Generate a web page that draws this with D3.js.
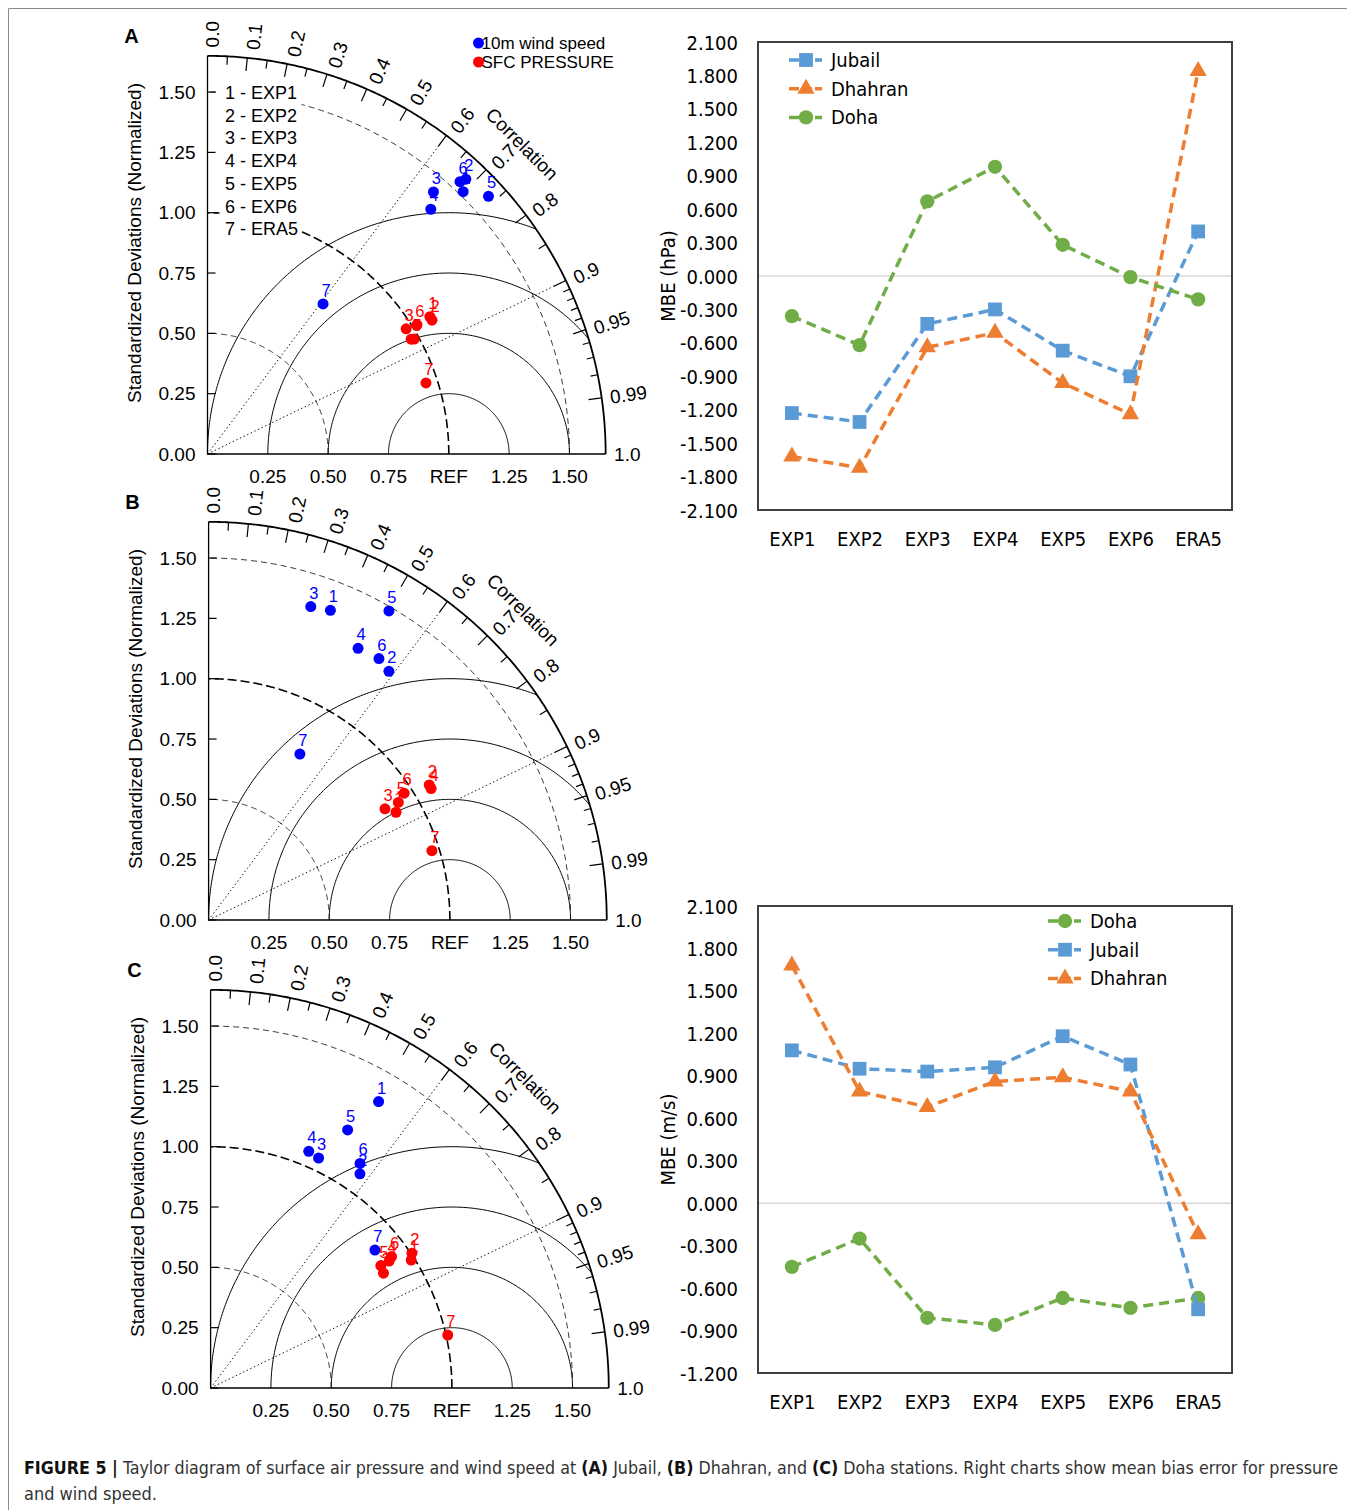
<!DOCTYPE html>
<html>
<head>
<meta charset="utf-8">
<script src="https://cdn.jsdelivr.net/npm/d3@7"></script>
<style>
  body { margin: 0; background: #fff; }
  svg text { font-family: "Liberation Sans", Arial, sans-serif; }
  .narrow text, text.narrow { font-family: "Liberation Sans Narrow", "DejaVu Sans Condensed", sans-serif; }
</style>
</head>
<body>
<div id="chart"></div>
<script>
// Taylor diagrams: normalized std dev and correlation for points 1..7 (EXP1..EXP6, ERA5)
const windSdA  = [1.518, 1.563, 1.434, 1.373, 1.580, 1.539, 0.785];
const windCorA = [0.698, 0.685, 0.653, 0.674, 0.737, 0.680, 0.610];
const presSdA  = [1.083, 1.083, 0.973, 0.969, 0.980, 1.020, 0.952];
const presCorA = [0.851, 0.859, 0.846, 0.871, 0.874, 0.851, 0.951];

const windSdB  = [1.379, 1.273, 1.366, 1.285, 1.483, 1.293, 0.785];
const windCorB = [0.366, 0.587, 0.310, 0.482, 0.504, 0.546, 0.482];
const presSdB  = [0.896, 1.072, 0.864, 1.071, 0.925, 0.966, 0.969];
const presCorB = [0.867, 0.853, 0.846, 0.861, 0.850, 0.839, 0.955];

const windSdC  = [1.376, 1.082, 1.053, 1.062, 1.211, 1.118, 0.889];
const windCorC = [0.506, 0.572, 0.425, 0.383, 0.469, 0.554, 0.766];
const presSdC  = [0.986, 1.004, 0.860, 0.908, 0.869, 0.927, 1.007];
const presCorC = [0.843, 0.831, 0.833, 0.815, 0.812, 0.809, 0.976];

const pointNames = ["1 - EXP1", "2 - EXP2", "3 - EXP3", "4 - EXP4", "5 - EXP5", "6 - EXP6", "7 - ERA5"];
const sdTicks = [0, 0.25, 0.5, 0.75, 1, 1.25, 1.5];
const sdTickLabels = ["0.00", "0.25", "0.50", "0.75", "1.00", "1.25", "1.50"];
const sdXLabels = ["", "0.25", "0.50", "0.75", "REF", "1.25", "1.50"];
const corTicks = [0, 0.1, 0.2, 0.3, 0.4, 0.5, 0.6, 0.7, 0.8, 0.9, 0.95, 0.99, 1.0];
const corTickLabels = ["0.0", "0.1", "0.2", "0.3", "0.4", "0.5", "0.6", "0.7", "0.8", "0.9", "0.95", "0.99", "1.0"];
const corMedTicks = [0.05, 0.15, 0.25, 0.35, 0.45, 0.55, 0.65, 0.75, 0.85];
const corSmallTicks = [0.91, 0.92, 0.93, 0.94, 0.96, 0.97, 0.98];
const rmsArcs = [0.25, 0.5, 0.75, 1.0];
const sdArcs = [0.5, 1.0, 1.5];
const corLines = [0.6, 0.9];

// MBE line charts
const categories = ["EXP1", "EXP2", "EXP3", "EXP4", "EXP5", "EXP6", "ERA5"];
const pJubail  = [-1.23, -1.31, -0.43, -0.30, -0.67, -0.90, 0.40];
const pDhahran = [-1.62, -1.72, -0.64, -0.51, -0.96, -1.24, 1.84];
const pDoha    = [-0.36, -0.62, 0.67, 0.98, 0.28, -0.01, -0.21];
const wDoha    = [-0.45, -0.25, -0.81, -0.86, -0.67, -0.74, -0.67];
const wJubail  = [1.08, 0.95, 0.93, 0.96, 1.18, 0.98, -0.75];
const wDhahran = [1.68, 0.79, 0.68, 0.86, 0.89, 0.79, -0.22];
const pTicks = [2.1, 1.8, 1.5, 1.2, 0.9, 0.6, 0.3, 0, -0.3, -0.6, -0.9, -1.2, -1.5, -1.8, -2.1];
const wTicks = [2.1, 1.8, 1.5, 1.2, 0.9, 0.6, 0.3, 0, -0.3, -0.6, -0.9, -1.2];

const W = 1347, H = 1510;
const svg = d3.select("#chart").append("svg")
    .attr("width", W).attr("height", H)
    .attr("viewBox", `0 0 ${W} ${H}`);

// frame of the figure
svg.append("path")
    .attr("d", `M8.5,${H}V8.5H${W}`)
    .attr("fill", "none").attr("stroke", "#8a8a8a").attr("stroke-width", 1);

const sdMax = 1.65;

function taylor(ox, oy, letter, windSd, windCor, presSd, presCor, legend) {
  const k = 241.3;
  const x = d3.scaleLinear().domain([0, sdMax]).range([ox, ox + sdMax * k]);
  const y = d3.scaleLinear().domain([0, sdMax]).range([oy, oy - sdMax * k]);
  const g = svg.append("g");
  const arc = (cx, r, a0, a1) => d3.line()(d3.range(0, 241).map(i => {
    const a = a0 + (a1 - a0) * i / 240;
    return [x(cx + r * Math.cos(a)), y(r * Math.sin(a))];
  }));
  const pol = (r, c) => [x(r * c), y(r * Math.sqrt(1 - c * c))];

  const clipId = "clip" + letter;
  g.append("clipPath").attr("id", clipId).append("path")
      .attr("d", arc(0, sdMax, 0, Math.PI / 2) + `L${x(0)},${y(0)}Z`);

  // centred RMS arcs
  g.selectAll(".rms").data(rmsArcs).join("path")
      .attr("d", r => arc(1, r, 0, Math.PI))
      .attr("clip-path", `url(#${clipId})`)
      .attr("fill", "none").attr("stroke", "#000").attr("stroke-width", 1);

  // std dev arcs
  g.selectAll(".sda").data(sdArcs).join("path")
      .attr("d", r => arc(0, r, 0, Math.PI / 2))
      .attr("fill", "none").attr("stroke", "#000")
      .attr("stroke-width", r => r === 1 ? 1.6 : 0.8)
      .attr("stroke-dasharray", r => r === 1 ? "9,4" : "6,4");

  // correlation guide lines
  g.selectAll(".cl").data(corLines).join("line")
      .attr("x1", x(0)).attr("y1", y(0))
      .attr("x2", c => pol(sdMax, c)[0]).attr("y2", c => pol(sdMax, c)[1])
      .attr("stroke", "#000").attr("stroke-width", 0.9).attr("stroke-dasharray", "1.5,2.5");

  // axes and outer arc
  g.append("path")
      .attr("d", `M${x(0)},${y(sdMax)}V${y(0)}H${x(sdMax)}`)
      .attr("fill", "none").attr("stroke", "#000").attr("stroke-width", 1.3);
  g.append("path").attr("d", arc(0, sdMax, 0, Math.PI / 2))
      .attr("fill", "none").attr("stroke", "#000").attr("stroke-width", 1.8);

  const tickSet = [
    ...corTicks.slice(1, -1).map(c => ({ c, len: 0.055 })),
    ...corMedTicks.map(c => ({ c, len: 0.035 })),
    ...corSmallTicks.map(c => ({ c, len: 0.03 }))
  ];
  g.selectAll(".ct").data(tickSet).join("line")
      .attr("x1", d => pol(sdMax, d.c)[0]).attr("y1", d => pol(sdMax, d.c)[1])
      .attr("x2", d => pol(sdMax - d.len, d.c)[0]).attr("y2", d => pol(sdMax - d.len, d.c)[1])
      .attr("stroke", "#000").attr("stroke-width", 1.2);

  g.selectAll(".ctl").data(corTicks).join("text")
      .attr("transform", c => {
        const p = pol(1.685, c);
        return `translate(${p[0]},${p[1]}) rotate(${-Math.acos(c) * 180 / Math.PI})`;
      })
      .attr("dy", c => 5 * Math.sqrt(1 - c * c))
      .attr("dominant-baseline", "central")
      .attr("font-size", 19)
      .text((c, i) => corTickLabels[i]);

  const cp = [x(1.83 * Math.cos(44.6 * Math.PI / 180)), y(1.83 * Math.sin(44.6 * Math.PI / 180))];
  g.append("text")
      .attr("transform", `translate(${cp[0]},${cp[1]}) rotate(45)`)
      .attr("text-anchor", "middle").attr("dominant-baseline", "central")
      .attr("font-size", 19).text("Correlation");

  // y ticks and labels
  g.selectAll(".yt").data(sdTicks).join("line")
      .attr("x1", x(0)).attr("x2", x(0) + 8)
      .attr("y1", d => y(d)).attr("y2", d => y(d))
      .attr("stroke", "#000").attr("stroke-width", 1.2);
  g.selectAll(".yl").data(sdTicks).join("text")
      .attr("x", x(0) - 12).attr("y", d => y(d))
      .attr("text-anchor", "end").attr("dominant-baseline", "central")
      .attr("font-size", 19)
      .text((d, i) => sdTickLabels[i]);
  g.selectAll(".xl").data(sdTicks).join("text")
      .attr("x", d => x(d)).attr("y", y(0) + 22)
      .attr("text-anchor", "middle").attr("dominant-baseline", "central")
      .attr("font-size", 19)
      .text((d, i) => sdXLabels[i]);

  g.append("text")
      .attr("transform", `translate(${ox - 73},${oy - 211}) rotate(-90)`)
      .attr("text-anchor", "middle").attr("dominant-baseline", "central")
      .attr("font-size", 19).text("Standardized Deviations (Normalized)");
  g.append("text")
      .attr("x", ox - 76).attr("y", oy - 418)
      .attr("text-anchor", "middle").attr("dominant-baseline", "central")
      .attr("font-size", 20).attr("font-weight", "bold").text(letter);

  if (legend) {
    g.append("rect")
        .attr("x", x(0) + 12).attr("y", y(1.5) - 9)
        .attr("width", 82).attr("height", 6 * 22.7 + 18)
        .attr("fill", "#fff");
    g.selectAll(".lg").data(pointNames).join("text")
        .attr("x", ox + 17.5).attr("y", (d, i) => oy - 361 + i * 22.7)
        .attr("dominant-baseline", "central").attr("font-size", 18)
        .text(d => d);
  }

  // points
  const drawSet = (sd, cor, color) => {
    sd.forEach((s, i) => {
      const px = x(s * cor[i]), py = y(s * Math.sqrt(1 - cor[i] * cor[i]));
      g.append("circle").attr("cx", px).attr("cy", py).attr("r", 5.5).attr("fill", color);
      g.append("text").attr("x", px + 3).attr("y", py - 14)
          .attr("text-anchor", "middle").attr("dominant-baseline", "central")
          .attr("font-size", 16.5).attr("fill", color).text(i + 1);
    });
  };
  drawSet(windSd, windCor, "#0000ff");
  drawSet(presSd, presCor, "#ff0000");

  if (legend) {
    [["10m wind speed", "#0000ff"], ["SFC PRESSURE", "#ff0000"]].forEach((d, i) => {
      const ly = oy - 411 + i * 19;
      g.append("text").attr("x", ox + 274).attr("y", ly)
          .attr("dominant-baseline", "central").attr("font-size", 17).text(d[0]);
      g.append("circle").attr("cx", ox + 271).attr("cy", ly).attr("r", 5.5).attr("fill", d[1]);
    });
  }
}

taylor(207.5, 454, "A", windSdA, windCorA, presSdA, presCorA, true);
taylor(208.6, 920, "B", windSdB, windCorB, presSdB, presCorB, false);
taylor(210.6, 1388, "C", windSdC, windCorC, presSdC, presCorC, false);

const colors = { Jubail: "#5b9bd5", Dhahran: "#ed7d31", Doha: "#70ad47" };
const shapes = { Jubail: d3.symbolSquare, Dhahran: d3.symbolTriangle, Doha: d3.symbolCircle };
const sizes = { Jubail: 190, Dhahran: 130, Doha: 160 };

function mbe(top, bottom, domain, ticks, series, title, legendX, legendY) {
  const left = 758, right = 1232;
  const x = d3.scalePoint().domain(categories).range([left, right]).padding(0.5);
  const y = d3.scaleLinear().domain(domain).range([bottom, top]);
  const g = svg.append("g").attr("class", "narrow");

  g.append("line")
      .attr("x1", left).attr("x2", right).attr("y1", y(0)).attr("y2", y(0))
      .attr("stroke", "#d9d9d9").attr("stroke-width", 1.5);

  g.append("g").attr("transform", `translate(${left},0)`)
      .call(d3.axisLeft(y).tickValues(ticks).tickFormat(d => d.toFixed(3)).tickSize(0).tickPadding(20))
      .call(a => a.select(".domain").remove())
      .call(a => a.selectAll("text").attr("font-size", 20).attr("fill", "#000").attr("dy", "0.35em"));
  g.append("g").attr("transform", `translate(0,${bottom})`)
      .call(d3.axisBottom(x).tickSize(0).tickPadding(22))
      .call(a => a.select(".domain").remove())
      .call(a => a.selectAll("text").attr("font-size", 20).attr("fill", "#000"));
  g.selectAll("g").attr("font-family", null);

  g.append("text")
      .attr("transform", `translate(668,${(top + bottom) / 2}) rotate(-90)`)
      .attr("text-anchor", "middle").attr("dominant-baseline", "central")
      .attr("font-size", 20).text(title);

  series.forEach(([name, vals]) => {
    g.append("path")
        .attr("d", d3.line().x((d, i) => x(categories[i])).y(d => y(d))(vals))
        .attr("fill", "none").attr("stroke", colors[name])
        .attr("stroke-width", 3.5).attr("stroke-dasharray", "10,6");
    g.selectAll(null).data(vals).join("path")
        .attr("transform", (d, i) => `translate(${x(categories[i])},${y(d)})`)
        .attr("d", d3.symbol(shapes[name], sizes[name]))
        .attr("fill", colors[name]);
  });

  series.forEach(([name], i) => {
    const ly = legendY + i * 28.7;
    g.append("line").attr("x1", legendX).attr("x2", legendX + 33)
        .attr("y1", ly).attr("y2", ly)
        .attr("stroke", colors[name]).attr("stroke-width", 3.5).attr("stroke-dasharray", "10,3");
    g.append("path").attr("transform", `translate(${legendX + 17},${ly})`)
        .attr("d", d3.symbol(shapes[name], sizes[name])).attr("fill", colors[name]);
    g.append("text").attr("x", legendX + 42).attr("y", ly)
        .attr("dominant-baseline", "central").attr("font-size", 20).text(name);
  });

  g.append("rect")
      .attr("x", left).attr("y", top).attr("width", right - left).attr("height", bottom - top)
      .attr("fill", "none").attr("stroke", "#404040").attr("stroke-width", 2);
}

mbe(42, 510, [-2.1, 2.1], pTicks,
    [["Jubail", pJubail], ["Dhahran", pDhahran], ["Doha", pDoha]], "MBE (hPa)", 789, 60);
mbe(906, 1373, [-1.2, 2.1], wTicks,
    [["Doha", wDoha], ["Jubail", wJubail], ["Dhahran", wDhahran]], "MBE (m/s)", 1048, 921);

// caption
const cap = svg.append("text").attr("class", "narrow").attr("x", 24).attr("y", 1474)
    .attr("font-size", 18).attr("fill", "#333")
    .attr("textLength", 1314).attr("lengthAdjust", "spacingAndGlyphs");
[["FIGURE 5 |", true], [" Taylor diagram of surface air pressure and wind speed at ", false], ["(A)", true],
 [" Jubail, ", false], ["(B)", true], [" Dhahran, and ", false], ["(C)", true],
 [" Doha stations. Right charts show mean bias error for pressure", false]]
  .forEach(([t, b]) => cap.append("tspan").attr("font-weight", b ? "bold" : null)
      .attr("fill", b ? "#111" : null).text(t));
svg.append("text").attr("class", "narrow").attr("x", 24).attr("y", 1500)
    .attr("font-size", 18).attr("fill", "#333")
    .attr("textLength", 133).attr("lengthAdjust", "spacingAndGlyphs").text("and wind speed.");
</script>
</body>
</html>
